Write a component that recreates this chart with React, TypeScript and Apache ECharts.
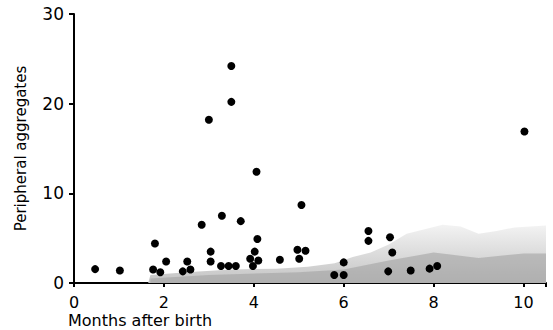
import React, { useEffect, useRef } from "react";
import * as echarts from "echarts";

const pointX = [0.47, 1.02, 1.76, 1.8, 1.92, 2.05, 2.42, 2.52, 2.59, 2.84, 3.0, 3.04, 3.04, 3.29, 3.27, 3.5, 3.5, 3.44, 3.6, 3.71, 3.92, 3.98, 4.06, 4.02, 4.08, 4.1, 4.58, 5.06, 4.97, 5.01, 5.15, 5.79, 6.0, 6.0, 6.55, 6.55, 7.03, 7.08, 6.99, 7.49, 7.91, 8.08, 10.02];
const pointY = [1.55, 1.4, 1.5, 4.4, 1.2, 2.4, 1.3, 2.4, 1.5, 6.5, 18.2, 3.5, 2.4, 7.5, 1.9, 20.2, 24.2, 1.9, 1.9, 6.9, 2.7, 1.9, 12.4, 3.5, 4.9, 2.5, 2.6, 8.7, 3.7, 2.7, 3.6, 0.9, 0.9, 2.3, 5.8, 4.7, 5.1, 3.4, 1.3, 1.4, 1.6, 1.9, 16.9];

const shadeX = [1.65, 1.7, 2.5, 3.5, 4.5, 5.2, 5.8, 6.2, 6.6, 7.0, 7.4, 7.8, 8.2, 8.6, 9.0, 9.4, 9.8, 10.5];
const shadeTop = [0, 0.9, 1.2, 1.5, 1.6, 1.8, 2.2, 2.9, 3.4, 4.3, 5.5, 6.0, 6.5, 6.3, 5.5, 5.8, 6.2, 6.4];
const innerX = [1.7, 3.0, 5.0, 6.0, 7.0, 8.0, 9.0, 10.0, 10.5];
const innerTop = [0.5, 0.9, 1.2, 1.5, 2.5, 3.4, 2.8, 3.3, 3.3];

const xTicks = [0, 2, 4, 6, 8, 10];
const yTicks = [0, 10, 20, 30];

const FONT = "'DejaVu Sans', 'Noto Sans', sans-serif";

export default function App() {
  const ref = useRef<HTMLDivElement>(null);
  useEffect(() => {
    const chart = echarts.init(ref.current!, null, { renderer: "svg" });
    chart.setOption({
      animation: false,
      backgroundColor: "#ffffff",
      grid: { left: 74, right: 7, top: 14, bottom: 47 },
      xAxis: {
        type: "value",
        min: 0,
        max: 10.5,
        interval: 2,
        splitLine: { show: false },
        axisLine: { show: true, onZero: false, lineStyle: { color: "#000", width: 2 } },
        axisTick: { show: true, length: 4, lineStyle: { color: "#000", width: 2 } },
        axisLabel: {
          color: "#000",
          fontSize: 16,
          fontFamily: FONT,
          margin: 11,
          formatter: (v: number) => (xTicks.includes(v) ? String(v) : ""),
        },
      },
      yAxis: {
        type: "value",
        min: 0,
        max: 30,
        interval: 10,
        splitLine: { show: false },
        axisLine: { show: true, lineStyle: { color: "#000", width: 2 } },
        axisTick: { show: true, length: 5, lineStyle: { color: "#000", width: 2 } },
        axisLabel: {
          color: "#000",
          fontSize: 17,
          fontFamily: FONT,
          margin: 10,
          formatter: (v: number) => (yTicks.includes(v) ? String(v) : ""),
        },
        name: "Peripheral aggregates",
        nameLocation: "middle",
        nameGap: 46,
        nameTextStyle: { color: "#000", fontSize: 15, fontFamily: FONT },
      },
      graphic: [
        {
          type: "text",
          left: 68,
          top: 312,
          style: { text: "Months after birth", fill: "#000", fontSize: 16, fontFamily: FONT },
        },
      ],
      series: [
        {
          type: "line",
          data: shadeX.map((x, i) => [x, shadeTop[i]]),
          showSymbol: false,
          smooth: false,
          lineStyle: { width: 0 },
          areaStyle: {
            color: new echarts.graphic.LinearGradient(0, 0, 0, 1, [
              { offset: 0, color: "#f3f3f3" },
              { offset: 1, color: "#c4c4c4" },
            ]),
            opacity: 1,
          },
          z: 1,
          silent: true,
        },
        {
          type: "line",
          data: innerX.map((x, i) => [x, innerTop[i]]),
          showSymbol: false,
          lineStyle: { width: 0 },
          areaStyle: { color: "#9e9e9e", opacity: 0.55 },
          z: 2,
          silent: true,
        },
        {
          type: "scatter",
          data: pointX.map((x, i) => [x, pointY[i]]),
          symbolSize: 8,
          itemStyle: { color: "#000", opacity: 1 },
          z: 5,
        },
      ],
    });
    return () => chart.dispose();
  }, []);
  return (
    <div
      ref={ref}
      style={{ position: "fixed", left: 0, top: 0, width: 553, height: 330 }}
    />
  );
}
